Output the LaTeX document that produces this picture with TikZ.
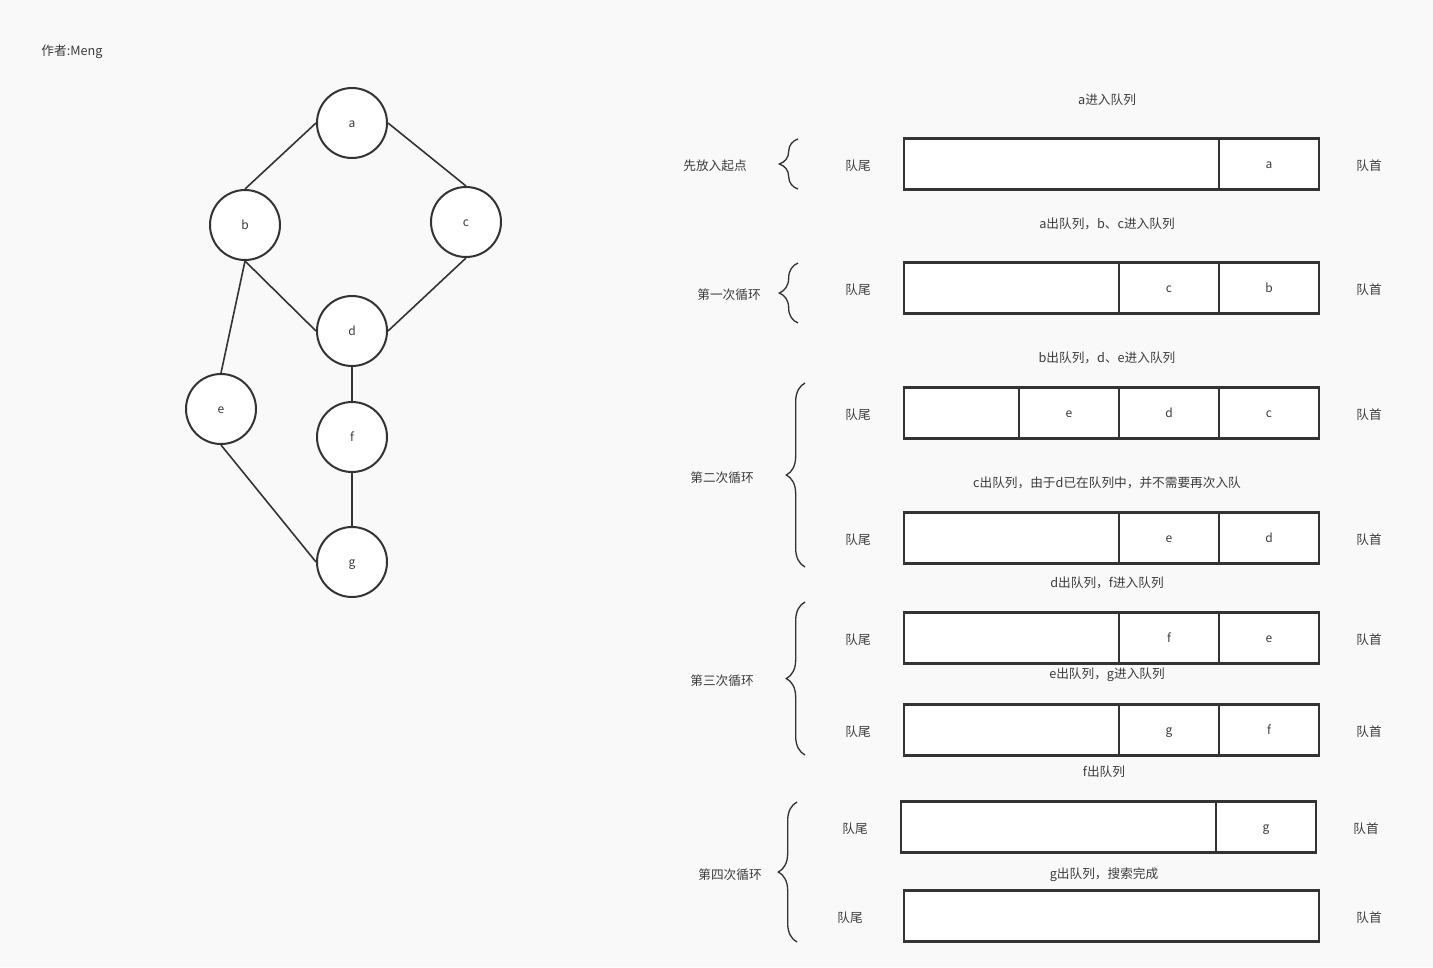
\documentclass[tikz,border=0pt]{standalone}
\usepackage{fontspec}
\setmainfont{Noto Sans CJK SC}
\usetikzlibrary{decorations.pathreplacing}
\definecolor{bgc}{HTML}{F9F9F9}
\definecolor{ink}{HTML}{333333}
\definecolor{txt}{HTML}{3C3C3C}
\newcommand{\lowr}[1]{\raisebox{-3.7pt}[0pt][0pt]{#1}}
\tikzset{
  vtx/.style={circle, draw=ink, line width=1.5pt, fill=white, minimum size=52.5pt, inner sep=0pt, text=txt, font=\fontsize{9}{10}\selectfont},
  gedge/.style={draw=ink, line width=1.2pt},
  qbox/.style={draw=ink, line width=1.7pt, fill=white, minimum width=311.25pt, minimum height=38.25pt, inner sep=0pt},
  qcell/.style={draw=ink, line width=1.7pt, fill=white, minimum width=75pt, minimum height=38.25pt, inner sep=0pt, text=txt, font=\fontsize{9}{10}\selectfont},
  lbl/.style={text=txt, inner sep=0pt, yshift=-1.5pt, font=\fontsize{9.5}{11}\selectfont},
  brc/.style={decorate, decoration={brace, amplitude=14pt}, draw=ink, line width=1pt}
}
\begin{document}
\begin{tikzpicture}[x=0.75pt,y=-0.75pt]
\useasboundingbox (0,0) rectangle (1433,967);
\fill[bgc] (0,0) rectangle (1433,967);

\node[lbl] (author) at (72,50) {作者:Meng};

% graph
\node[vtx] (a) at (352,123) {\lowr{a}};
\node[vtx] (b) at (245,225) {\lowr{b}};
\node[vtx] (c) at (466,222) {\lowr{c}};
\node[vtx] (d) at (352,331) {\lowr{d}};
\node[vtx] (e) at (221,409) {\lowr{e}};
\node[vtx] (f) at (352,437) {\lowr{f}};
\node[vtx] (g) at (352,562) {\lowr{g}};
\draw[gedge] (a.west) -- (b.north);
\draw[gedge] (a.east) -- (c.north);
\draw[gedge] (b.south) -- (d.west);
\draw[gedge] (c.south) -- (d.east);
\draw[gedge] (b.south) -- (e.north);
\draw[gedge] (d.south) -- (f.north);
\draw[gedge] (f.south) -- (g.north);
\draw[gedge] (e.south) -- (g.west);

% row 1
\node[lbl] (t1) at (1107,98) {a进入队列};
\node[qbox] (q1) at (1111.5,164) {};
\node[qcell] (q1a) at (1269,164) {\lowr{a}};
\node[lbl] (w1) at (858,164) {队尾};
\node[lbl] (h1) at (1369,164) {队首};

% row 2
\node[lbl] (t2) at (1107,222) {a出队列，b、c进入队列};
\node[qbox] (q2) at (1111.5,288) {};
\node[qcell] (q2c) at (1169,288) {\lowr{c}};
\node[qcell] (q2b) at (1269,288) {\lowr{b}};
\node[lbl] (w2) at (858,288) {队尾};
\node[lbl] (h2) at (1369,288) {队首};

% row 3
\node[lbl] (t3) at (1107,356) {b出队列，d、e进入队列};
\node[qbox] (q3) at (1111.5,413) {};
\node[qcell] (q3e) at (1069,413) {\lowr{e}};
\node[qcell] (q3d) at (1169,413) {\lowr{d}};
\node[qcell] (q3c) at (1269,413) {\lowr{c}};
\node[lbl] (w3) at (858,413) {队尾};
\node[lbl] (h3) at (1369,413) {队首};

% row 4
\node[lbl] (t4) at (1107,481) {c出队列，由于d已在队列中，并不需要再次入队};
\node[qbox] (q4) at (1111.5,538) {};
\node[qcell] (q4e) at (1169,538) {\lowr{e}};
\node[qcell] (q4d) at (1269,538) {\lowr{d}};
\node[lbl] (w4) at (858,538) {队尾};
\node[lbl] (h4) at (1369,538) {队首};

% row 5
\node[lbl] (t5) at (1107,581) {d出队列，f进入队列};
\node[qbox] (q5) at (1111.5,638) {};
\node[qcell] (q5f) at (1169,638) {\lowr{f}};
\node[qcell] (q5e) at (1269,638) {\lowr{e}};
\node[lbl] (w5) at (858,638) {队尾};
\node[lbl] (h5) at (1369,638) {队首};

% row 6
\node[lbl] (t6) at (1107,673) {e出队列，g进入队列};
\node[qbox] (q6) at (1111.5,730) {};
\node[qcell] (q6g) at (1169,730) {\lowr{g}};
\node[qcell] (q6f) at (1269,730) {\lowr{f}};
\node[lbl] (w6) at (858,730) {队尾};
\node[lbl] (h6) at (1369,730) {队首};

% row 7
\node[lbl] (t7) at (1104,770) {f出队列};
\node[qbox] (q7) at (1108.5,827) {};
\node[qcell] (q7g) at (1266,827) {\lowr{g}};
\node[lbl] (w7) at (855,827) {队尾};
\node[lbl] (h7) at (1366,827) {队首};

% row 8
\node[lbl] (t8) at (1104,873) {g出队列，搜索完成};
\node[qbox] (q8) at (1111.5,916) {};
\node[lbl] (w8) at (850,916) {队尾};
\node[lbl] (h8) at (1369,916) {队首};

% left labels and braces
\node[lbl] (s0) at (715,164) {先放入起点};
\node[lbl] (s1) at (729,293) {第一次循环};
\node[lbl] (s2) at (722,476) {第二次循环};
\node[lbl] (s3) at (722,679) {第三次循环};
\node[lbl] (s4) at (730,873) {第四次循环};

\coordinate (b0t) at (798,139); \coordinate (b0b) at (798,189);
\coordinate (b1t) at (798,263); \coordinate (b1b) at (798,323);
\coordinate (b2t) at (805,383); \coordinate (b2b) at (805,567);
\coordinate (b3t) at (805,602); \coordinate (b3b) at (805,755);
\coordinate (b4t) at (797,802); \coordinate (b4b) at (797,942);
\draw[brc] (b0b) -- (b0t);
\draw[brc] (b1b) -- (b1t);
\draw[brc] (b2b) -- (b2t);
\draw[brc] (b3b) -- (b3t);
\draw[brc] (b4b) -- (b4t);
\end{tikzpicture}
\end{document}
